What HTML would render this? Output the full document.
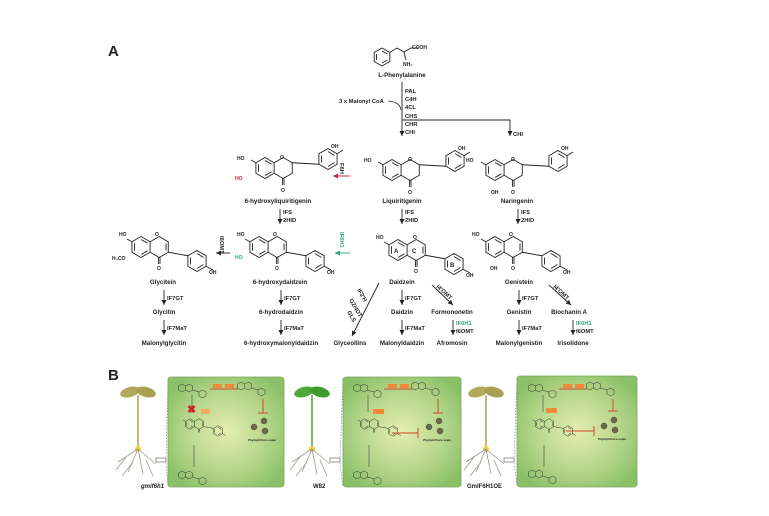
<!DOCTYPE html>
<html><head><meta charset="utf-8"><style>
html,body{margin:0;padding:0;background:#fff;}
svg{display:block;}
text{font-family:"Liberation Sans",sans-serif;font-weight:bold;fill:#222;}
.n{font-size:6.2px;text-anchor:middle;}
.e{font-size:5.8px;}
.s{font-size:5px;}
</style></head><body>
<svg width="769" height="516" viewBox="0 0 769 516" xmlns="http://www.w3.org/2000/svg">
<defs>
<marker id="ah" markerWidth="6" markerHeight="6" refX="5" refY="3" orient="auto" markerUnits="userSpaceOnUse"><path d="M0,0.5 L5,3 L0,5.5Z" fill="#222"/></marker>
<marker id="ahr" markerWidth="6" markerHeight="6" refX="5" refY="3" orient="auto" markerUnits="userSpaceOnUse"><path d="M0,0.5 L5,3 L0,5.5Z" fill="#c8283a"/></marker>
<marker id="ahg" markerWidth="6" markerHeight="6" refX="5" refY="3" orient="auto" markerUnits="userSpaceOnUse"><path d="M0,0.5 L5,3 L0,5.5Z" fill="#2aa57a"/></marker>
<g id="flav" fill="none" stroke="#222" stroke-width="0.9">
<path d="M0,-10.5 L9.09,-5.25 L9.09,5.25 L0,10.5 L-9.09,5.25 L-9.09,-5.25Z"/>
<path d="M-6.5,-3.8 L-6.5,3.8 M0,7.5 L6.5,3.8 M0,-7.5 L6.5,-3.8"/>
<path d="M9.09,-5.25 L18.18,-10.5 L27.27,-5.25 L27.27,5.25 L18.18,10.5 L9.09,5.25"/>
<path d="M17.4,10.5 L17.4,17 M19,10.5 L19,17"/>
<path d="M27.27,-5.25 L53.91,-3.75"/>
<path d="M63,-19.5 L72.09,-14.25 L72.09,-3.75 L63,1.5 L53.91,-3.75 L53.91,-14.25Z"/>
<path d="M56.5,-12.5 L56.5,-5.5 M63,-1.5 L69.5,-5.5 M63,-16.5 L69.5,-12.5"/>
<path d="M72.09,-14.25 L78,-18"/>
<path d="M-9.09,-5.25 L-14,-8"/>
</g>
<g id="iso" fill="none" stroke="#222" stroke-width="0.9">
<path d="M0,-10.5 L9.09,-5.25 L9.09,5.25 L0,10.5 L-9.09,5.25 L-9.09,-5.25Z"/>
<path d="M-6.5,-3.8 L-6.5,3.8 M0,7.5 L6.5,3.8 M0,-7.5 L6.5,-3.8"/>
<path d="M9.09,-5.25 L18.18,-10.5 L27.27,-5.25 L27.27,5.25 L18.18,10.5 L9.09,5.25"/>
<path d="M25,-3.5 L25,3.5"/>
<path d="M17.4,10.5 L17.4,17 M19,10.5 L19,17"/>
<path d="M27.27,5.25 L46.91,8.75"/>
<path d="M56,3.5 L65.09,8.75 L65.09,19.25 L56,24.5 L46.91,19.25 L46.91,8.75Z"/>
<path d="M49.5,10.5 L49.5,17.5 M56,6.5 L62.5,10.5 M56,21.5 L62.5,17.5"/>
<path d="M65.09,19.25 L72,23"/>
<path d="M-9.09,-5.25 L-14,-8"/>
</g>
<g id="mini" fill="none" stroke="#333" stroke-width="0.5">
<path d="M0,-4 L3.5,-2 L3.5,2 L0,4 L-3.5,2 L-3.5,-2Z M3.5,-2 L7,-4 L10.5,-2 L10.5,2 L7,4 L3.5,2 M10.5,2 L17,4 L20.5,2 L24,4 L24,8 L20.5,10 L17,8 L17,4"/>
</g>
<radialGradient id="pg" cx="50%" cy="50%" r="60%">
<stop offset="0" stop-color="#e4edb0"/><stop offset="0.6" stop-color="#b5d68a"/><stop offset="1" stop-color="#8cc068"/>
</radialGradient>
</defs>

<text x="108" y="56" style="font-size:15px">A</text>

<!-- phenylalanine -->
<g fill="none" stroke="#222" stroke-width="0.9">
<path d="M382,48 L389.8,52.5 L389.8,61.5 L382,66 L374.2,61.5 L374.2,52.5Z M376.5,54 L376.5,60 M382,63 L387.5,60 M382,51 L387.5,54"/>
<path d="M389.8,52.5 L397,48 L404,52 L411,48 L418,48 M404,52 L406,60"/>
</g>
<text x="412" y="49" class="s">COOH</text>
<text x="403" y="66" class="s">NH₂</text>
<text class="n" x="402" y="77">L-Phenylalanine</text>
<line x1="402" y1="82" x2="402" y2="136" stroke="#222" stroke-width="0.9" marker-end="url(#ah)"/>
<text class="e" x="405" y="93">PAL</text>
<text class="e" x="405" y="101">C4H</text>
<text class="e" x="405" y="109">4CL</text>
<text class="e" x="405" y="118">CHS</text>
<text class="e" x="405" y="126">CHR</text>
<text class="e" x="405" y="134">CHI</text>
<text class="e" x="339" y="103">3 x Malonyl CoA</text>
<path d="M388,101 Q400,102 401,110" fill="none" stroke="#222" stroke-width="0.8"/>
<path d="M402,120 L510,120 L510,136" fill="none" stroke="#222" stroke-width="0.9" marker-end="url(#ah)"/>
<text class="e" x="513" y="136">CHI</text>

<!-- flavanones -->
<use href="#flav" x="265" y="168"/>
<use href="#flav" x="392" y="170"/>
<use href="#flav" x="495" y="170"/>
<text class="s" x="237" y="160">HO</text><text class="s" x="235" y="180" style="fill:#c8283a">HO</text>
<text class="s" x="280" y="159">O</text><text class="s" x="281" y="192">O</text><text class="s" x="331" y="148">OH</text>
<text class="s" x="364" y="162">HO</text><text class="s" x="408" y="161">O</text><text class="s" x="408" y="194">O</text><text class="s" x="458" y="150">OH</text>
<text class="s" x="466" y="162">HO</text><text class="s" x="511" y="161">O</text><text class="s" x="511" y="194">O</text><text class="s" x="491" y="194">OH</text><text class="s" x="561" y="150">OH</text>
<text class="n" x="278" y="203">6-hydroxyliquiritigenin</text>
<text class="n" x="402" y="203">Liquiritigenin</text>
<text class="n" x="517" y="203">Naringenin</text>
<line x1="350" y1="176" x2="333" y2="176" stroke="#c8283a" stroke-width="0.9" marker-end="url(#ahr)"/>
<text class="e" transform="translate(340,163) rotate(90)">F6H</text>

<line x1="280" y1="209" x2="280" y2="224" stroke="#222" stroke-width="0.9" marker-end="url(#ah)"/>
<line x1="402" y1="209" x2="402" y2="224" stroke="#222" stroke-width="0.9" marker-end="url(#ah)"/>
<line x1="518" y1="209" x2="518" y2="224" stroke="#222" stroke-width="0.9" marker-end="url(#ah)"/>
<text class="e" x="283" y="214">IFS</text><text class="e" x="283" y="222">2HID</text>
<text class="e" x="405" y="214">IFS</text><text class="e" x="405" y="222">2HID</text>
<text class="e" x="521" y="214">IFS</text><text class="e" x="521" y="222">2HID</text>

<!-- isoflavones -->
<use href="#iso" x="141" y="247"/>
<use href="#iso" x="259" y="247"/>
<use href="#iso" x="398" y="250"/>
<use href="#iso" x="495" y="247"/>
<text class="s" x="119" y="236">HO</text><text class="s" x="112" y="260">H₃CO</text><text class="s" x="155" y="236">O</text><text class="s" x="157" y="270">O</text><text class="s" x="209" y="274">OH</text>
<text class="s" x="237" y="236">HO</text><text class="s" x="235" y="259" style="fill:#2aa57a">HO</text><text class="s" x="273" y="236">O</text><text class="s" x="275" y="270">O</text><text class="s" x="327" y="274">OH</text>
<text class="s" x="376" y="239">HO</text><text class="s" x="413" y="239">O</text><text class="s" x="414" y="273">O</text><text class="s" x="466" y="277">OH</text>
<text class="s" x="394" y="253" style="font-size:6px">A</text><text class="s" x="412" y="253" style="font-size:6px">C</text><text class="s" x="450" y="267" style="font-size:6px">B</text>
<text class="s" x="472" y="236">HO</text><text class="s" x="509" y="236">O</text><text class="s" x="511" y="270">O</text><text class="s" x="490" y="270">OH</text><text class="s" x="563" y="274">OH</text>
<line x1="230" y1="253" x2="216" y2="253" stroke="#222" stroke-width="0.9" marker-end="url(#ah)"/>
<text class="e" transform="translate(220,236) rotate(90)">I6OMT</text>
<line x1="350" y1="253" x2="335" y2="253" stroke="#2aa57a" stroke-width="0.9" marker-end="url(#ahg)"/>
<text class="e" transform="translate(340,232) rotate(90)" style="fill:#2aa57a">IF6H1</text>

<text class="n" x="163" y="284">Glycitein</text>
<text class="n" x="280" y="284">6-hydroxydaidzein</text>
<text class="n" x="402" y="284">Daidzein</text>
<text class="n" x="519" y="284">Genistein</text>

<g stroke="#222" stroke-width="0.9" marker-end="url(#ah)">
<line x1="164" y1="290" x2="164" y2="305"/><line x1="281" y1="290" x2="281" y2="305"/><line x1="402" y1="290" x2="402" y2="305"/><line x1="519" y1="290" x2="519" y2="305"/>
<line x1="164" y1="320" x2="164" y2="335"/><line x1="281" y1="320" x2="281" y2="335"/><line x1="402" y1="320" x2="402" y2="335"/><line x1="519" y1="320" x2="519" y2="335"/>
<line x1="453" y1="320" x2="453" y2="335"/><line x1="573" y1="320" x2="573" y2="335"/>
<line x1="432" y1="285" x2="453" y2="305"/><line x1="549" y1="285" x2="571" y2="305"/>
<line x1="379" y1="283" x2="352" y2="336"/>
</g>
<text class="e" x="167" y="300">IF7GT</text><text class="e" x="284" y="300">IF7GT</text><text class="e" x="405" y="300">IF7GT</text><text class="e" x="522" y="300">IF7GT</text>
<text class="e" x="167" y="330">IF7MaT</text><text class="e" x="284" y="330">IF7MaT</text><text class="e" x="405" y="330">IF7MaT</text><text class="e" x="522" y="330">IF7MaT</text>
<text class="e" transform="translate(436,287) rotate(43)">I4'OMT</text>
<text class="e" transform="translate(553,287) rotate(43)">I4'OMT</text>
<text class="e" transform="translate(357,290) rotate(60)">IF2'H</text>
<text class="e" transform="translate(349,300) rotate(60)">G2/4DT</text>
<text class="e" transform="translate(347,312) rotate(60)">GLS</text>
<text class="n" x="164" y="314">Glycitin</text>
<text class="n" x="281" y="314">6-hydrodaidzin</text>
<text class="n" x="402" y="314">Daidzin</text>
<text class="n" x="452" y="314">Formononetin</text>
<text class="n" x="519" y="314">Genistin</text>
<text class="n" x="569" y="314">Biochanin A</text>
<text class="e" x="456" y="325" style="fill:#2aa57a">IF6H1</text><text class="e" x="456" y="333">I6OMT</text>
<text class="e" x="576" y="325" style="fill:#2aa57a">IF6H1</text><text class="e" x="576" y="333">I6OMT</text>
<text class="n" x="164" y="345">Malonylglycitin</text>
<text class="n" x="281" y="345">6-hydroxymalonyldaidzin</text>
<text class="n" x="350" y="345">Glyceollins</text>
<text class="n" x="402" y="345">Malonyldaidzin</text>
<text class="n" x="452" y="345">Afromosin</text>
<text class="n" x="519" y="345">Malonylgenistin</text>
<text class="n" x="573" y="345">Irisolidone</text>

<!-- Part B -->
<text x="108" y="380" style="font-size:15px">B</text>

<!-- seedlings -->
<g>
<g transform="translate(138,0)">
<path d="M0,395 L0,448" stroke="#b8a45a" stroke-width="1.6"/>
<ellipse cx="-8" cy="392" rx="10" ry="5" fill="#b3a95c" transform="rotate(-15 -8 392)"/>
<ellipse cx="8" cy="392" rx="10" ry="5" fill="#a99e52" transform="rotate(15 8 392)"/>
<circle cx="0" cy="449" r="3" fill="#f3cd3a"/>
<path d="M0,449 L-20,462 M0,449 L-10,472 M0,449 L5,474 M0,449 L18,464 M-12,457 L-22,470 M8,460 L15,476 M-5,462 L-16,476" stroke="#9a9a8a" stroke-width="0.8" fill="none"/>
<rect x="18" y="458" width="10" height="4" fill="none" stroke="#555" stroke-width="0.6"/>
</g>
<g transform="translate(312,0)">
<path d="M0,395 L0,448" stroke="#5aa83a" stroke-width="1.6"/>
<ellipse cx="-8" cy="392" rx="10" ry="5" fill="#4fa83a" transform="rotate(-15 -8 392)"/>
<ellipse cx="8" cy="392" rx="10" ry="5" fill="#3f9a30" transform="rotate(15 8 392)"/>
<circle cx="0" cy="449" r="3" fill="#f3cd3a"/>
<path d="M0,449 L-20,462 M0,449 L-10,472 M0,449 L5,474 M0,449 L18,464 M-12,457 L-22,470 M8,460 L15,476 M-5,462 L-16,476" stroke="#9a9a8a" stroke-width="0.8" fill="none"/>
<rect x="18" y="458" width="10" height="4" fill="none" stroke="#555" stroke-width="0.6"/>
</g>
<g transform="translate(486,0)">
<path d="M0,395 L0,448" stroke="#b8a45a" stroke-width="1.6"/>
<ellipse cx="-8" cy="392" rx="10" ry="5" fill="#b3a95c" transform="rotate(-15 -8 392)"/>
<ellipse cx="8" cy="392" rx="10" ry="5" fill="#a99e52" transform="rotate(15 8 392)"/>
<circle cx="0" cy="449" r="3" fill="#f3cd3a"/>
<path d="M0,449 L-20,462 M0,449 L-10,472 M0,449 L5,474 M0,449 L18,464 M-12,457 L-22,470 M8,460 L15,476 M-5,462 L-16,476" stroke="#9a9a8a" stroke-width="0.8" fill="none"/>
<rect x="18" y="458" width="10" height="4" fill="none" stroke="#555" stroke-width="0.6"/>
</g>
</g>
<text x="141" y="488" style="font-size:6px;font-style:italic">gmif6h1</text>
<text x="313" y="488" style="font-size:6px">W82</text>
<text x="467" y="488" style="font-size:6px">GmIF6H1OE</text>
<g stroke="#777" stroke-width="0.6" stroke-dasharray="1.5,1.5" fill="none">
<path d="M166,460 L168,378 M166,463 L168,486"/><path d="M340,460 L343,378 M340,463 L343,486"/><path d="M514,460 L517,376 M514,463 L517,486"/>
</g>

<!-- panels -->
<g id="p1">
<rect x="168" y="377" width="116" height="110" rx="3" fill="url(#pg)" stroke="#7aa860" stroke-width="0.8"/>
</g>
<rect x="343" y="377" width="118" height="110" rx="3" fill="url(#pg)" stroke="#7aa860" stroke-width="0.8"/>
<rect x="517" y="376" width="120" height="111" rx="3" fill="url(#pg)" stroke="#7aa860" stroke-width="0.8"/>

<!-- panel contents -->
<g>
<use href="#mini" x="182" y="388"/><use href="#mini" x="241" y="386"/><use href="#mini" x="182" y="475"/>
<use href="#mini" x="357" y="388"/><use href="#mini" x="415" y="386"/><use href="#mini" x="357" y="475"/>
<use href="#mini" x="532" y="388"/><use href="#mini" x="590" y="386"/><use href="#mini" x="532" y="474"/>
<g transform="translate(190,424) scale(0.5)"><use href="#iso"/></g>
<g transform="translate(365,424) scale(0.5)"><use href="#iso"/></g>
<g transform="translate(540,424) scale(0.5)"><use href="#iso"/></g>
</g>
<g stroke="#d04a2a" stroke-width="1" fill="none">
<path d="M210,389 L238,389 M384,389 L412,389 M559,389 L587,389"/>
<path d="M263,399 L263,413 M258,413 L268,413 M438,399 L438,413 M433,413 L443,413 M613,399 L613,411 M608,411 L618,411"/>
<path d="M392,433 L418,433 M418,428 L418,438 M566,431 L594,431 M594,426 L594,436"/>
</g>
<g fill="#f28a3a"><rect x="213" y="384" width="9" height="4"/><rect x="225" y="384" width="9" height="4"/>
<rect x="388" y="384" width="9" height="4"/><rect x="400" y="384" width="9" height="4"/>
<rect x="563" y="384" width="9" height="4"/><rect x="575" y="384" width="9" height="4"/>
<rect x="201" y="409" width="9" height="5" fill="#f6a860"/><rect x="373" y="409" width="11" height="5"/><rect x="546" y="408" width="11" height="5"/></g>
<text x="187" y="413" style="font-size:11px;fill:#e02020">✖</text>
<g stroke="#444" stroke-width="0.6" fill="none">
<path d="M192,395 L192,413 M194,445 L194,467 M368,395 L368,412 M369,445 L369,467 M543,395 L543,412 M544,445 L544,467"/>
</g>
<g fill="#6b6b4a" stroke="#333" stroke-width="0.4">
<circle cx="264" cy="421" r="3"/><circle cx="254" cy="427" r="3"/><circle cx="265" cy="431" r="3"/>
<circle cx="439" cy="421" r="3"/><circle cx="429" cy="427" r="3"/><circle cx="440" cy="431" r="3"/>
<circle cx="614" cy="420" r="3"/><circle cx="604" cy="426" r="3"/><circle cx="615" cy="430" r="3"/>
</g>
<g style="font-size:3px">
<text x="262" y="441" text-anchor="middle" font-style="italic">Phytophthora sojae</text>
<text x="437" y="441" text-anchor="middle" font-style="italic">Phytophthora sojae</text>
<text x="612" y="440" text-anchor="middle" font-style="italic">Phytophthora sojae</text>
</g>
</svg>
</body></html>
